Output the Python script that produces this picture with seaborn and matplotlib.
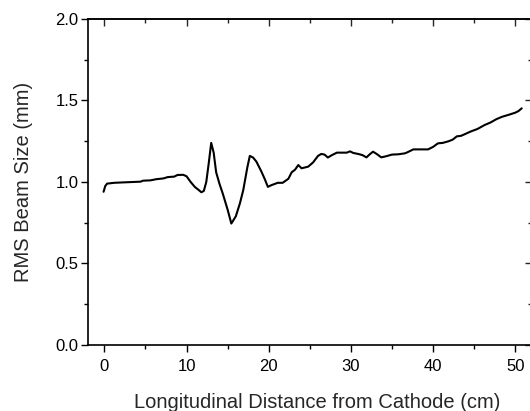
import matplotlib
import matplotlib.pyplot as plt
import pandas as pd
import seaborn as sns
from matplotlib.ticker import FormatStrFormatter, MultipleLocator

matplotlib.use("agg")
sns.set_theme(style="ticks")
plt.rcParams["font.family"] = ["Liberation Sans", "DejaVu Sans"]

# beam size along the gun
distance_cm = [
    -0.1, 0.1, 0.33, 1.2, 2.5, 3.5, 4.4, 4.7, 5.6, 6.3, 7.2, 7.7, 8.5, 8.9, 9.6,
    10.0, 10.5, 11.0, 11.5, 11.8, 12.1, 12.4, 12.7, 13.0, 13.3, 13.6, 14.0, 14.4,
    15.0, 15.45, 16.0, 16.5, 16.9, 17.4, 17.7, 18.1, 18.5, 19.1, 19.5, 19.9, 20.3,
    21.1, 21.7, 22.4, 22.8, 23.2, 23.6, 24.0, 24.8, 25.4, 26.0, 26.4, 26.8, 27.2,
    27.7, 28.3, 29.0, 29.5, 29.9, 30.3, 30.9, 31.4, 31.9, 32.3, 32.7, 33.2, 33.7,
    34.3, 35.0, 35.8, 36.6, 37.0, 37.6, 38.5, 39.4, 40.0, 40.6, 41.2, 41.9, 42.4,
    42.9, 43.4, 43.9, 44.6, 45.4, 46.3, 47.0, 47.7, 48.4, 49.2, 50.0, 50.4, 50.8,
]
rms_size_mm = [
    0.94, 0.975, 0.99, 0.995, 0.998, 1.0, 1.002, 1.008, 1.01, 1.017, 1.022, 1.03,
    1.033, 1.043, 1.044, 1.035, 1.0, 0.97, 0.95, 0.937, 0.945, 1.0, 1.115, 1.24,
    1.18, 1.06, 0.99, 0.93, 0.83, 0.745, 0.79, 0.87, 0.95, 1.09, 1.16, 1.15, 1.125,
    1.065, 1.02, 0.97, 0.98, 0.995, 0.995, 1.02, 1.06, 1.075, 1.104, 1.084, 1.094,
    1.12, 1.16, 1.172, 1.168, 1.15, 1.165, 1.18, 1.18, 1.18, 1.188, 1.178, 1.172,
    1.165, 1.151, 1.17, 1.186, 1.17, 1.151, 1.158, 1.168, 1.17, 1.176, 1.185,
    1.2, 1.2, 1.2, 1.215, 1.237, 1.24, 1.25, 1.26, 1.28, 1.283, 1.294, 1.31,
    1.325, 1.35, 1.365, 1.385, 1.40, 1.412, 1.425, 1.435, 1.452,
]

df = pd.DataFrame({"distance": distance_cm, "size": rms_size_mm})

fig = plt.figure(figsize=(5.3, 4.11), dpi=100)
ax = fig.add_axes([0.166, 0.1606, 0.837, 0.7932])
sns.lineplot(data=df, x="distance", y="size", color="black", linewidth=1.5,
             sort=False, ax=ax)

ax.set_xlim(-2, 52)
ax.set_ylim(0, 2.0)
ax.xaxis.set_major_locator(MultipleLocator(10))
ax.xaxis.set_minor_locator(MultipleLocator(5))
ax.yaxis.set_major_locator(MultipleLocator(0.5))
ax.yaxis.set_minor_locator(MultipleLocator(0.25))
ax.yaxis.set_major_formatter(FormatStrFormatter("%.1f"))

for side in ["left", "right", "top", "bottom"]:
    ax.spines[side].set_visible(True)
    ax.spines[side].set_linewidth(1.2)
    ax.spines[side].set_color("black")

ax.tick_params(axis="both", which="both", colors="black", width=1.0,
               labelsize=12, direction="out", top=False, right=False)
ax.tick_params(axis="both", which="major", length=5)
ax.tick_params(axis="both", which="minor", length=3)
ax.tick_params(axis="x", which="major", pad=5)
ax.tick_params(axis="y", which="major", pad=2)

# the opposite spines carry inward ticks
sec_x = ax.secondary_xaxis("top")
sec_x.xaxis.set_major_locator(MultipleLocator(10))
sec_x.xaxis.set_minor_locator(MultipleLocator(5))
sec_x.tick_params(which="both", direction="in", labeltop=False, width=1.0)
sec_x.tick_params(which="major", length=5)
sec_x.tick_params(which="minor", length=3)
sec_y = ax.secondary_yaxis("right")
sec_y.yaxis.set_major_locator(MultipleLocator(0.5))
sec_y.yaxis.set_minor_locator(MultipleLocator(0.25))
sec_y.tick_params(which="both", direction="in", labelright=False, width=1.0)
sec_y.tick_params(which="major", length=5)
sec_y.tick_params(which="minor", length=3)

ax.set_xlabel("Longitudinal Distance from Cathode (cm)", fontsize=14.5)
ax.set_ylabel("RMS Beam Size (mm)", fontsize=14.5, labelpad=16)
ax.xaxis.set_label_coords(0.517, -0.147)

fig.savefig("out.png", dpi=100)
plt.close()
